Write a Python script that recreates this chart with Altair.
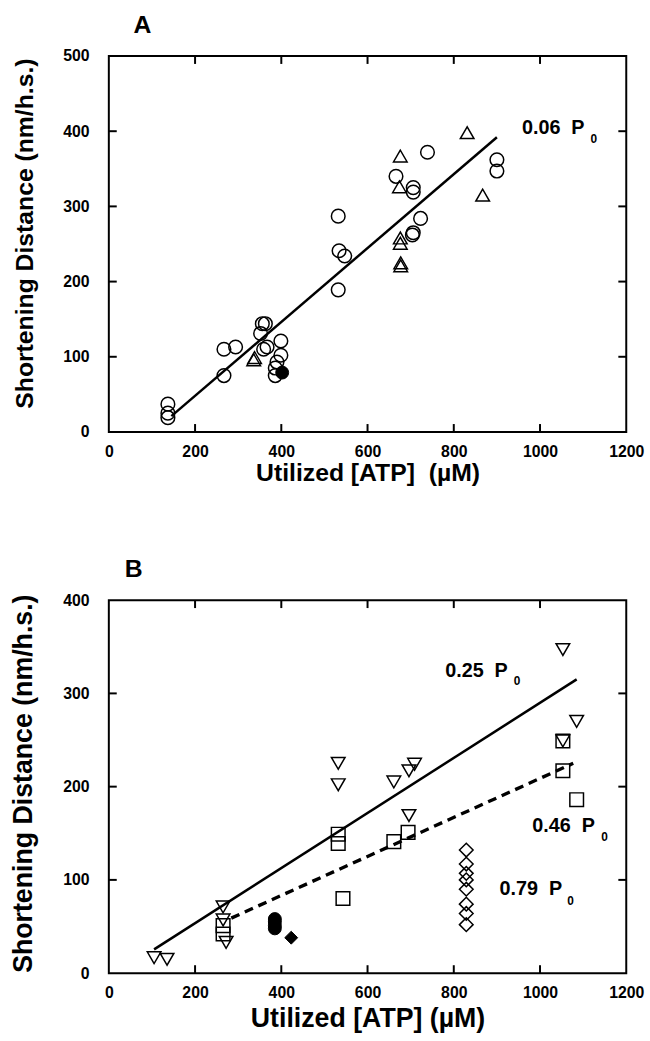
import altair as alt
import pandas as pd

FONT = "Liberation Sans"
NB = "\u00a0"

# ---------------- Panel A data ----------------
a_circle_x = [137, 137, 137, 267, 294, 267, 356, 363, 352, 359, 367, 399, 399, 390, 386, 386,
              532, 534, 547, 532, 739, 666, 706, 706, 900, 900, 723, 706, 704]
a_circle_y = [37, 25, 19, 110, 113, 75, 144, 144, 131, 110, 113, 121, 102, 93, 85, 75,
              287, 241, 234, 189, 372, 340, 325, 319, 362, 347, 284, 265, 262]
a_tri_x = [336, 338, 831, 676, 674, 867, 676, 676, 677, 677]
a_tri_y = [96, 99, 398, 367, 326, 315, 258, 251, 225, 221]
a_fill_x = [402]
a_fill_y = [79]
a_fit_x = [145, 900]
a_fit_y = [21, 392]
a_lab_text = ["0.06" + NB + NB + "P"]
a_lab_x = [958]
a_lab_y = [404]
a_sub_x = [1117]
a_sub_y = [389]

# ---------------- Panel B data ----------------
b_tri_x = [105, 135, 265, 265, 272, 532, 532, 661, 696, 709, 696, 1053, 1085, 1053]
b_tri_y = [16.6, 14.8, 71, 57, 33, 225, 202, 205, 217, 224, 169, 347, 270, 249]
b_sq_x = [265, 265, 532, 532, 543, 661, 694, 1053, 1053, 1085]
b_sq_y = [51, 42, 149, 139, 80, 141, 151, 249, 217, 186]
b_dia_x = [829, 829, 829, 829, 829, 829, 829, 829]
b_dia_y = [132, 117, 107, 100, 90, 74, 64, 52]
b_fcirc_x = [385, 385, 385, 385]
b_fcirc_y = [58, 55, 51, 48]
b_fdia_x = [423]
b_fdia_y = [38]
b_solid_x = [105, 1085]
b_solid_y = [25.5, 315]
b_dash_x = [284, 1077]
b_dash_y = [59, 225]
b_lab_text = ["0.25" + NB + NB + "P", "0.46" + NB + NB + "P", "0.79" + NB + NB + "P"]
b_lab_x = [780, 982, 906]
b_lab_y = [324, 158, 90]
b_sub_x = [939, 1142, 1063]
b_sub_y = [313, 146, 77]

X_TICKS = [0, 200, 400, 600, 800, 1000, 1200]
X_INNER = [200, 400, 600, 800, 1000]
A_Y_TICKS = [0, 100, 200, 300, 400, 500]
A_Y_INNER = [100, 200, 300, 400]
B_Y_TICKS = [0, 100, 200, 300, 400]
B_Y_INNER = [100, 200, 300]

TICK = 8


def df(x, y, **extra):
    d = pd.DataFrame({"x": x, "y": y})
    for k, v in extra.items():
        d[k] = v
    return d


def build_panel(title, title_dx, ymax, y_ticks, y_inner, width, height, xtitle,
                pt_layers, line_layers, labels, subs, ytitle_size, xtitle_size,
                ytitle_y, xtitle_y, xlabel_pad):
    xscale = alt.Scale(domain=[0, 1200], nice=False)
    yscale = alt.Scale(domain=[0, ymax], nice=False)
    main_x = alt.X("x:Q", scale=xscale, title=xtitle,
                   axis=alt.Axis(orient="bottom", values=X_TICKS, format="d", ticks=False,
                                 tickSize=0, domain=False, grid=False, labelPadding=xlabel_pad,
                                 titleFontSize=xtitle_size, titleY=xtitle_y,
                                 titleBaseline="middle", labelFlush=False))
    main_y = alt.Y("y:Q", scale=yscale, title="Shortening Distance (nm/h.s.)",
                   axis=alt.Axis(orient="left", values=y_ticks, format="d", ticks=False,
                                 tickSize=0, domain=False, grid=False, labelPadding=20,
                                 titleFontSize=ytitle_size, titleX=-72, titleY=ytitle_y,
                                 titleBaseline="bottom", labelFlush=False))
    nx = alt.X("x:Q", scale=xscale, axis=None)
    ny = alt.Y("y:Q", scale=yscale, axis=None)

    layers = []
    first = True
    for data, shape, filled in pt_layers:
        if filled:
            m = alt.Chart(data).mark_point(shape=shape, filled=True, fill="black",
                                           stroke="black", strokeWidth=1, size=170, opacity=1)
        else:
            m = alt.Chart(data).mark_point(shape=shape, filled=False, stroke="black",
                                           strokeWidth=1.5, size=190, opacity=1)
        if first:
            layers.append(m.encode(x=main_x, y=main_y))
            first = False
        else:
            layers.append(m.encode(x=nx, y=ny))
    for data, dash in line_layers:
        kw = dict(color="black", strokeWidth=2.5)
        if dash:
            kw["strokeDash"] = [9, 6]
            kw["strokeWidth"] = 3.4
        layers.append(alt.Chart(data).mark_line(**kw).encode(x=nx, y=ny))

    # inward tick marks on all four sides of the frame
    xt = pd.DataFrame({"v": X_INNER})
    yt = pd.DataFrame({"v": y_inner})
    tick_style = dict(color="black", strokeWidth=2)
    layers.append(alt.Chart(xt).mark_rule(**tick_style).encode(
        x=alt.X("v:Q", scale=xscale, axis=None), y=alt.value(height), y2=alt.value(height - TICK)))
    layers.append(alt.Chart(xt).mark_rule(**tick_style).encode(
        x=alt.X("v:Q", scale=xscale, axis=None), y=alt.value(0), y2=alt.value(TICK)))
    layers.append(alt.Chart(yt).mark_rule(**tick_style).encode(
        y=alt.Y("v:Q", scale=yscale, axis=None), x=alt.value(0), x2=alt.value(TICK)))
    layers.append(alt.Chart(yt).mark_rule(**tick_style).encode(
        y=alt.Y("v:Q", scale=yscale, axis=None), x=alt.value(width), x2=alt.value(width - TICK)))

    layers.append(alt.Chart(labels).mark_text(align="left", baseline="middle", font=FONT,
                                              fontSize=20, fontWeight="bold", color="black")
                  .encode(x=nx, y=ny, text="t:N"))
    layers.append(alt.Chart(subs).mark_text(align="left", baseline="middle", font=FONT,
                                            fontSize=12, fontWeight="bold", color="black")
                  .encode(x=nx, y=ny, text="t:N"))
    return alt.layer(*layers).resolve_axis(x="independent", y="independent").properties(
        width=width, height=height,
        title=alt.TitleParams(title, anchor="start", frame="group", font=FONT, fontSize=25,
                              fontWeight="bold", color="black", offset=10, dx=title_dx))


panelA = build_panel(
    "A", 25, 500, A_Y_TICKS, A_Y_INNER, 523, 380,
    "Utilized [ATP]" + NB + NB + "(\u00b5M)",
    [(df(a_circle_x, a_circle_y), "circle", False),
     (df(a_tri_x, a_tri_y), "triangle-up", False),
     (df(a_fill_x, a_fill_y), "circle", True)],
    [(df(a_fit_x, a_fit_y), False)],
    df(a_lab_x, a_lab_y, t=a_lab_text),
    df(a_sub_x, a_sub_y, t=["0"] * len(a_sub_x)),
    25, 25, 179, 41, 12,
)

panelB = build_panel(
    "B", 16, 400, B_Y_TICKS, B_Y_INNER, 523, 377,
    "Utilized [ATP] (\u00b5M)",
    [(df(b_tri_x, b_tri_y), "triangle-down", False),
     (df(b_sq_x, b_sq_y), "square", False),
     (df(b_dia_x, b_dia_y), "diamond", False),
     (df(b_fcirc_x, b_fcirc_y), "circle", True),
     (df(b_fdia_x, b_fdia_y), "diamond", True)],
    [(df(b_solid_x, b_solid_y), False), (df(b_dash_x, b_dash_y), True)],
    df(b_lab_x, b_lab_y, t=b_lab_text),
    df(b_sub_x, b_sub_y, t=["0"] * len(b_sub_x)),
    27, 27, 185, 46, 12,
)

chart = alt.vconcat(panelA, panelB, spacing=71).properties(
    padding={"left": 8, "top": 7, "right": 5, "bottom": 5},
    background="white",
).configure_view(stroke="black", strokeWidth=2).configure_axis(
    labelFont=FONT, labelFontSize=16, labelFontWeight="bold", labelColor="black",
    titleFont=FONT, titleFontSize=20, titleFontWeight="bold", titleColor="black",
)

chart.save("out.html", embed_options={"renderer": "svg", "actions": False})
